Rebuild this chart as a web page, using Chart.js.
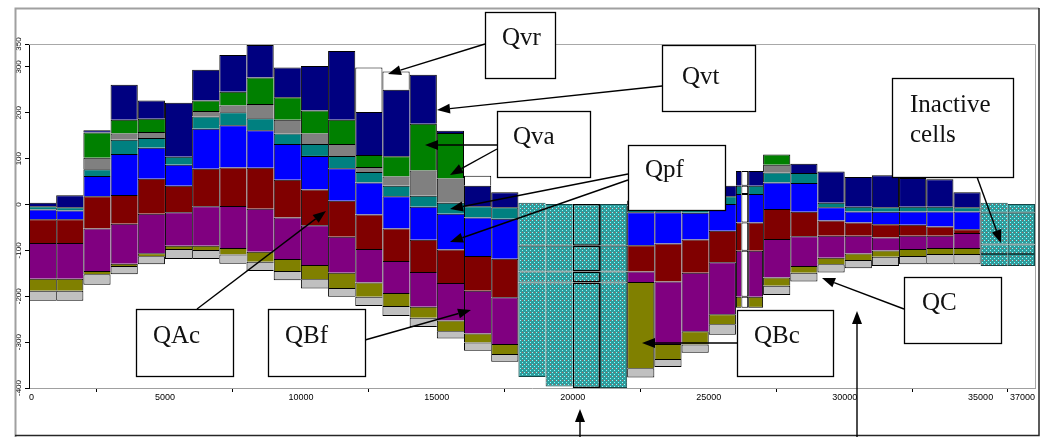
<!DOCTYPE html>
<html>
<head>
<meta charset="utf-8">
<script src="https://cdn.jsdelivr.net/npm/chart.js@4.4.1/dist/chart.umd.min.js"></script>
<style>
  html, body { margin: 0; padding: 0; background: #fff; overflow: hidden; }
  #wrap { width: 1043px; height: 437px; position: relative; }
</style>
</head>
<body>
<div id="wrap"><canvas id="c" width="1043" height="437"></canvas></div>
<script>
// ---- Section geometry: boundaries of the model cells along the profile ----
const cellEdges = [0, 1000, 2000, 3000, 4000, 5000, 6000, 7000, 8000, 9000, 10000,
  11000, 12000, 13000, 14000, 15000, 16000, 17000, 18000, 19000, 20000, 21000, 22000,
  23000, 24000, 25000, 26000, 26200, 26450, 27000, 28000, 29000, 30000, 31000, 32000,
  33000, 34000, 35000, 36000, 37000];

// Bottom of each active column (null = inactive cell)
const stackBase = [-210, -210, -175, -152, -130, -119, -119, -129, -145, -165, -183, -201,
  -221, -243, -267, -292, -319, -343, null, null, null, null, -377, -354, -323, -284,
  -225, -225, -225, -197, -168, -148, -139, -134, -130, -130, -130, null, null];

// Budget terms per cell, stacked upward from the column bottom
const qc      = [22, 22, 23, 18, 17, 22, 20, 20, 20, 20, 20, 19, 20, 22, 20, 16, 18, 17, 0, 0, 0, 0, 20, 17, 18, 23, 0, 0, 0, 20, 19, 18, 18, 20, 18, 22, 22, 0, 0];
const qbc     = [26, 26, 7, 5, 7, 7, 9, 14, 22, 26, 31, 33, 31, 28, 24, 23, 20, 22, 0, 0, 0, 0, 188, 33, 29, 22, 24, 24, 24, 18, 15, 14, 14, 14, 15, 13, 13, 0, 0];
const qbf     = [78, 78, 93, 87, 86, 73, 86, 92, 94, 91, 87, 79, 73, 70, 76, 82, 93, 102, 0, 0, 0, 0, 23, 136, 127, 113, 100, 100, 100, 84, 65, 48, 39, 28, 29, 27, 33, 0, 0];
const qac     = [52, 52, 70, 63, 76, 58, 82, 84, 89, 82, 78, 78, 75, 71, 70, 73, 76, 84, 0, 0, 0, 0, 57, 83, 73, 69, 62, 62, 62, 65, 53, 33, 29, 29, 24, 20, 8, 0, 0];
const qpfBlue = [21, 19, 44, 89, 68, 46, 87, 92, 82, 78, 73, 71, 70, 70, 72, 78, 84, 87, 0, 0, 0, 0, 72, 68, 58, 58, 62, 62, 62, 58, 63, 29, 24, 27, 29, 33, 39, 0, 0];
const qpfTeal = [7, 7, 15, 31, 21, 17, 27, 28, 26, 23, 26, 27, 23, 23, 24, 24, 24, 25, 0, 0, 0, 0, 15, 15, 17, 17, 18, 18, 18, 22, 22, 10, 10, 10, 10, 10, 9, 0, 0];
const qvGrey  = [0, 0, 25, 14, 13, 0, 12, 15, 31, 30, 23, 26, 11, 20, 55, 53, 0, 0, 0, 0, 0, 0, 0, 0, 0, 0, 0, 0, 0, 17, 0, 0, 0, 0, 0, 0, 0, 0, 0];
const qva     = [0, 0, 55, 30, 29, 0, 23, 30, 58, 49, 50, 53, 26, 44, 102, 99, 0, 0, 0, 0, 0, 0, 0, 0, 0, 0, 0, 0, 0, 22, 0, 0, 0, 0, 0, 0, 0, 0, 0];
const qvt     = [8, 26, 5, 76, 40, 118, 67, 80, 71, 65, 97, 150, 94, 145, 107, 5, 45, 33, 0, 0, 0, 0, 11, 15, 22, 23, 32, 32, 32, 0, 20, 68, 65, 70, 63, 60, 33, 0, 0];
const qvr     = [0, 0, 0, 0, 0, 0, 0, 0, 0, 0, 0, 0, 97, 40, 0, 0, 22, 0, 0, 0, 0, 0, 0, 0, 0, 0, 0, 0, 0, 0, 0, 0, 0, 0, 0, 0, 0, 0, 0];

// Inactive cells (index into cells) and their internal layer levels
const inactiveCells  = [18, 19, 20, 21, 37, 38];
const inactiveTop    = [4, 1, 1, 1, 4, 1];
const inactiveSplitA = [-90, -90, -90, -90, -18, -18];
const inactiveSplitB = [-146, -146, -146, -146, -87, -87];
const inactiveSplitC = [-170, -170, -170, -170, -108, -108];
const inactiveBottom = [-376, -397, -400, -400, -134, -134];
const highlightedCell = 20;
const blankCells = [27];

// Axis ticks
const xTickValues = [0, 5000, 10000, 15000, 20000, 25000, 30000, 35000, 37000];
const yTickValues = [-400, -300, -200, -100, 0, 100, 200, 300, 350];

// ---- Build stacked floating ranges ----
const layerDefs = [
  { label: 'QC',      values: qc,      color: '#c0c0c0' },
  { label: 'QBc',     values: qbc,     color: '#808000' },
  { label: 'QBf',     values: qbf,     color: '#800080' },
  { label: 'QAc',     values: qac,     color: '#800000' },
  { label: 'Qpf',     values: qpfBlue, color: '#0000ff' },
  { label: 'Qpf (2)', values: qpfTeal, color: '#008080' },
  { label: 'Qv grey', values: qvGrey,  color: '#808080' },
  { label: 'Qva',     values: qva,     color: '#008000' },
  { label: 'Qvt',     values: qvt,     color: '#000080' },
  { label: 'Qvr',     values: qvr,     color: '#ffffff' }
];

const nCells = cellEdges.length - 1;
const centres = cellEdges.slice(0, -1).map((e, i) => (e + cellEdges[i + 1]) / 2);
const stackTop = [], stackBottom = [];
const layerRanges = layerDefs.map(() => []);
for (let i = 0; i < nCells; i++) {
  if (stackBase[i] === null) {
    stackTop.push(null); stackBottom.push(null);
    layerRanges.forEach(r => r.push(null));
    continue;
  }
  let run = stackBase[i];
  layerDefs.forEach((L, k) => {
    const v = L.values[i];
    if (v > 0) { layerRanges[k].push([run, run + v]); run += v; }
    else layerRanges[k].push(null);
  });
  stackBottom.push(stackBase[i]);
  stackTop.push(run);
}

// Each cell contributes its two edges (empty) and its centre, so that
// flex-sized bars span exactly from one edge to the next.
function toPoints(ranges) {
  const pts = [];
  for (let i = 0; i < nCells; i++) {
    pts.push({ x: cellEdges[i], y: null });
    pts.push({ x: centres[i], y: ranges[i] });
  }
  pts.push({ x: cellEdges[nCells], y: null });
  return pts;
}
const cellOf = ctx => (ctx.dataIndex - 1) / 2;

function segmentBorder(ctx) {
  const r = ctx.raw && ctx.raw.y;
  if (!r) return 0;
  const i = cellOf(ctx), j = i + 1;
  const blank = blankCells.includes(i);
  const exposed = j >= nCells || stackTop[j] === null ||
    r[1] > stackTop[j] + 0.01 || r[0] < stackBottom[j] - 0.01;
  return { top: 1, left: 1, right: (exposed || blank) ? 1 : 0,
           bottom: (r[0] === stackBottom[i] || blank) ? 1 : 0 };
}

const layerDatasets = layerDefs.map((L, k) => ({
  label: L.label,
  data: toPoints(layerRanges[k]),
  stack: 'column',
  backgroundColor: ctx => blankCells.includes(cellOf(ctx)) ? '#ffffff' : L.color,
  borderColor: '#000000',
  borderWidth: segmentBorder
}));

// Inactive cells: dotted teal fill
function makeDots() {
  const c = document.createElement('canvas');
  c.width = 4; c.height = 4;
  const g = c.getContext('2d');
  g.fillStyle = '#2d9d9d'; g.fillRect(0, 0, 4, 4);
  g.fillStyle = '#8ffcfc'; g.fillRect(0, 0, 1, 1); g.fillRect(2, 2, 1, 1);
  g.fillStyle = '#b45c5c'; g.fillRect(2, 0, 1, 1);
  return g.createPattern(c, 'repeat');
}
const dots = makeDots();
const inactiveLevels = [inactiveTop, inactiveSplitA, inactiveSplitB, inactiveSplitC, inactiveBottom];
const inactiveDatasets = [0, 1, 2, 3].map(b => {
  const ranges = new Array(nCells).fill(null);
  inactiveCells.forEach((c, m) => { ranges[c] = [inactiveLevels[b + 1][m], inactiveLevels[b][m]]; });
  return {
    label: 'inactive',
    data: toPoints(ranges),
    stack: 'column',
    backgroundColor: dots,
    borderColor: ctx => cellOf(ctx) === highlightedCell ? '#000000' : '#164848',
    borderWidth: ctx => {
      const i = cellOf(ctx);
      if (i === highlightedCell) return 1.5;
      const nextInactive = inactiveCells.includes(i + 1);
      return { top: 1, left: 1, right: nextInactive ? 0 : 1, bottom: 1 };
    }
  };
});

// ---- Callouts ----
const callouts = [
  { x: 485, y: 12,  w: 70,  h: 66, lines: ['Qvr'], tx: 502, ty: [45] },
  { x: 662, y: 45,  w: 93,  h: 66, lines: ['Qvt'], tx: 682, ty: [84] },
  { x: 497, y: 111, w: 93,  h: 66, lines: ['Qva'], tx: 513, ty: [144] },
  { x: 628, y: 145, w: 97,  h: 65, lines: ['Qpf'], tx: 645, ty: [177] },
  { x: 136, y: 309, w: 97,  h: 67, lines: ['QAc'], tx: 153, ty: [343] },
  { x: 268, y: 309, w: 97,  h: 67, lines: ['QBf'], tx: 285, ty: [343] },
  { x: 737, y: 310, w: 96,  h: 66, lines: ['QBc'], tx: 754, ty: [343] },
  { x: 904, y: 277, w: 97,  h: 66, lines: ['QC'],  tx: 922, ty: [310] },
  { x: 892, y: 78,  w: 121, h: 99, lines: ['Inactive', 'cells'], tx: 910, ty: [112, 142] }
];
const arrows = [
  [485, 44, 388, 74], [662, 86, 437, 110], [497, 145, 425, 145], [497, 149, 450, 175],
  [628, 174, 450, 209], [628, 180, 450, 242], [197, 309, 326, 211], [365, 340, 471, 310],
  [737, 343, 642, 343], [904, 309, 822, 278], [977, 177, 1001, 243],
  [580, 437, 580, 409], [857, 437, 857, 311]
];

function drawArrow(ctx, x1, y1, x2, y2) {
  const a = Math.atan2(y2 - y1, x2 - x1), L = 13, W = 5;
  const bx = x2 - L * Math.cos(a), by = y2 - L * Math.sin(a);
  ctx.beginPath(); ctx.moveTo(x1, y1); ctx.lineTo(bx, by); ctx.stroke();
  ctx.beginPath();
  ctx.moveTo(x2, y2);
  ctx.lineTo(bx + W * Math.sin(a), by - W * Math.cos(a));
  ctx.lineTo(bx - W * Math.sin(a), by + W * Math.cos(a));
  ctx.closePath(); ctx.fill();
}

const decor = {
  id: 'decor',
  beforeDraw(chart) {
    const ctx = chart.ctx;
    ctx.save(); ctx.fillStyle = '#fff'; ctx.fillRect(0, 0, chart.width, chart.height); ctx.restore();
  },
  afterDraw(chart) {
    const ctx = chart.ctx, a = chart.chartArea;
    ctx.save();
    // plot frame (top and right)
    ctx.strokeStyle = '#a8a8a8'; ctx.lineWidth = 1;
    ctx.beginPath(); ctx.moveTo(a.left, a.top + 0.5); ctx.lineTo(a.right + 0.5, a.top + 0.5);
    ctx.lineTo(a.right + 0.5, a.bottom); ctx.stroke();
    // outer frame
    ctx.lineWidth = 2; ctx.strokeStyle = '#a0a0a0';
    ctx.beginPath(); ctx.moveTo(15.5, 437); ctx.lineTo(15.5, 8.5); ctx.lineTo(1039, 8.5); ctx.stroke();
    ctx.strokeStyle = '#262626'; ctx.lineWidth = 1.5;
    ctx.beginPath(); ctx.moveTo(1039, 8); ctx.lineTo(1039, 435.5); ctx.lineTo(15, 435.5); ctx.stroke();
    // arrows
    ctx.strokeStyle = '#000'; ctx.fillStyle = '#000'; ctx.lineWidth = 1.4;
    arrows.forEach(p => drawArrow(ctx, p[0], p[1], p[2], p[3]));
    // boxes
    callouts.forEach(c => {
      ctx.fillStyle = '#fff'; ctx.fillRect(c.x, c.y, c.w, c.h);
      ctx.strokeStyle = '#000'; ctx.lineWidth = 1.3;
      ctx.strokeRect(c.x + 0.5, c.y + 0.5, c.w, c.h);
      ctx.fillStyle = '#111'; ctx.font = '25px "Liberation Serif"';
      ctx.textAlign = 'left'; ctx.textBaseline = 'alphabetic';
      c.lines.forEach((t, k) => ctx.fillText(t, c.tx, c.ty[k]));
    });
    ctx.restore();
  }
};

Chart.defaults.font.family = '"Liberation Sans", "DejaVu Sans", sans-serif';

new Chart(document.getElementById('c'), {
  type: 'bar',
  data: { datasets: [...layerDatasets, ...inactiveDatasets] },
  options: {
    responsive: false,
    animation: false,
    events: [],
    layout: { padding: { left: 0, top: 44, right: 8, bottom: 0 } },
    datasets: {
      bar: { barThickness: 'flex', categoryPercentage: 2, barPercentage: 1, grouped: true,
             borderSkipped: false, inflateAmount: 0 }
    },
    plugins: { legend: { display: false }, tooltip: { enabled: false } },
    scales: {
      x: {
        type: 'linear', min: 0, max: 37000, offset: false,
        afterBuildTicks: s => { s.ticks = xTickValues.map(v => ({ value: v })); },
        afterFit: s => { s.height = 49; },
        ticks: { font: { size: 9 }, color: '#000', padding: 0, maxRotation: 0, autoSkip: false,
                 align: 'inner', callback: v => String(v) },
        grid: { drawOnChartArea: false, drawTicks: true, tickLength: 4, tickColor: '#000' },
        border: { display: true, color: '#a0a0a0', width: 1 }
      },
      y: {
        type: 'linear', min: -400, max: 350, stacked: false,
        afterBuildTicks: s => { s.ticks = yTickValues.map(v => ({ value: v })); },
        afterFit: s => { s.width = 29; },
        ticks: { font: { size: 8 }, color: '#000', minRotation: 90, maxRotation: 90,
                 crossAlign: 'center', padding: -2, autoSkip: false, callback: v => String(v) },
        grid: { drawOnChartArea: false, drawTicks: true, tickLength: 4, tickColor: '#000' },
        border: { display: true, color: '#000', width: 1 }
      }
    }
  },
  plugins: [decor]
});
</script>
</body>
</html>
